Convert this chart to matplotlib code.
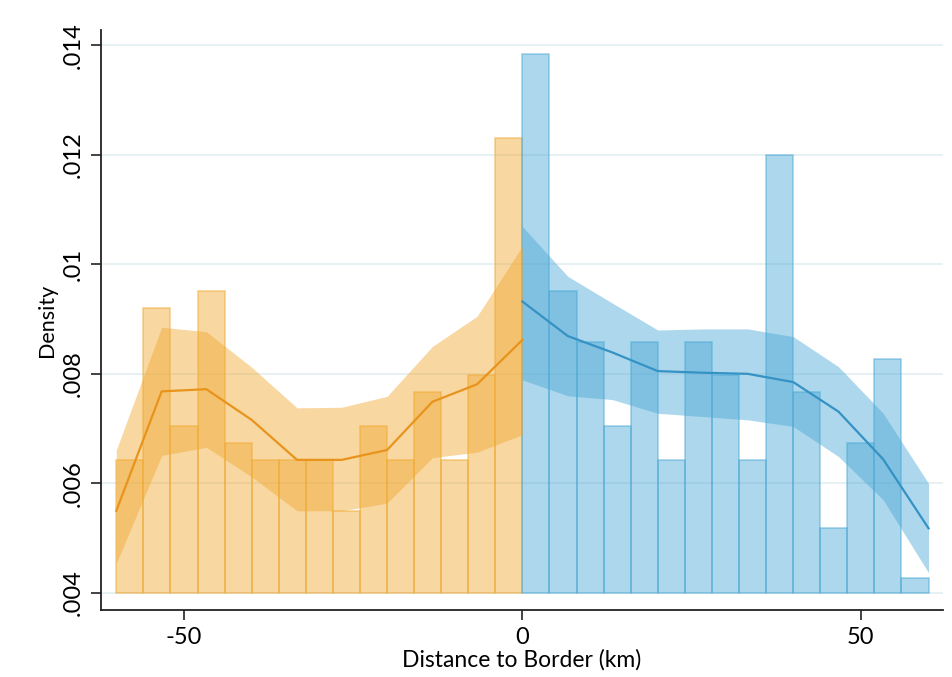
import matplotlib.pyplot as plt
import numpy as np

# histogram bins (km) and densities
left_edges = [-60, -56, -52, -48, -44, -40, -36, -32, -28, -24, -20, -16, -12, -8, -4]
left_density = [.00643, .00921, .00705, .00952, .00674, .00643, .00643, .00643,
                .00550, .00705, .00643, .00767, .00643, .00798, .01230]
right_edges = [0, 4, 8, 12, 16, 20, 24, 28, 32, 36, 40, 44, 48, 52, 56]
right_density = [.01384, .00952, .00859, .00705, .00859, .00643, .00859, .00797,
                 .00643, .01200, .00767, .00519, .00674, .00828, .00427]
bin_width = 4

# local polynomial fits with confidence bands
left_x = [-60, -53.3, -46.7, -40, -33.3, -26.7, -20, -13.3, -6.7, 0]
left_fit = [.00550, .00768, .00772, .00716, .00643, .00643, .00661, .00749, .00781, .00862]
left_hi = [.00661, .00885, .00877, .00812, .00738, .00739, .00759, .00850, .00905, .01033]
left_lo = [.00454, .00651, .00666, .00612, .00550, .00550, .00564, .00647, .00657, .00689]

right_x = [0, 6.7, 13.3, 20, 26.7, 33.3, 40, 46.7, 53.3, 60]
right_fit = [.00932, .00869, .00839, .00805, .00802, .00800, .00785, .00731, .00644, .00518]
right_hi = [.01069, .00978, .00929, .00880, .00882, .00882, .00868, .00813, .00728, .00600]
right_lo = [.00789, .00760, .00753, .00728, .00722, .00716, .00704, .00649, .00570, .00437]

y_ticks = [.004, .006, .008, .010, .012, .014]
y_ticklabels = [".004", ".006", ".008", ".01", ".012", ".014"]
x_ticks = [-50, 0, 50]

ORANGE = "#f0a830"
ORANGE_LINE = "#e8941c"
BLUE = "#4aa8d6"
BLUE_LINE = "#3592c4"
BASE = 0.004

plt.rcParams["font.family"] = ["Lato", "DejaVu Sans"]
plt.rcParams["axes.unicode_minus"] = False

fig = plt.figure(figsize=(9.52, 6.77), dpi=100)
ax = fig.add_axes([0.1058, 0.099, 0.8845, 0.857])

for edges, dens, col in [(left_edges, left_density, ORANGE), (right_edges, right_density, BLUE)]:
    heights = np.array(dens) - BASE
    ax.bar(edges, heights, width=bin_width, bottom=BASE, align="edge",
           color=col, alpha=0.45, edgecolor="none", zorder=2)
    ax.bar(edges, heights, width=bin_width, bottom=BASE, align="edge",
           facecolor="none", edgecolor=col, alpha=0.5, linewidth=1.2, zorder=2)

ax.fill_between(left_x, left_lo, left_hi, color=ORANGE, alpha=0.45, linewidth=0, zorder=3)
ax.fill_between(right_x, right_lo, right_hi, color=BLUE, alpha=0.45, linewidth=0, zorder=3)
ax.plot(left_x, left_fit, color=ORANGE_LINE, linewidth=1.6, zorder=4)
ax.plot(right_x, right_fit, color=BLUE_LINE, linewidth=1.6, zorder=4)

ax.set_xlim(-62.3, 62.1)
ax.set_ylim(0.00369, 0.01428)
ax.set_yticks(y_ticks)
ax.set_yticklabels(y_ticklabels, rotation=90, va="center")
ax.set_xticks(x_ticks)
ax.yaxis.grid(True, color="#e3edf1", linewidth=1.2, zorder=0)
ax.set_axisbelow(True)

for side in ["top", "right"]:
    ax.spines[side].set_visible(False)
for side in ["left", "bottom"]:
    ax.spines[side].set_color("#222222")
    ax.spines[side].set_linewidth(1.3)
ax.tick_params(axis="both", length=7, width=1.2, color="#222222", labelsize=17, pad=5)

ax.set_xlabel("Distance to Border (km)", fontsize=16.5, labelpad=1)
ax.set_ylabel("Density", fontsize=15.5, labelpad=4)

fig.savefig("out.png", dpi=100)
